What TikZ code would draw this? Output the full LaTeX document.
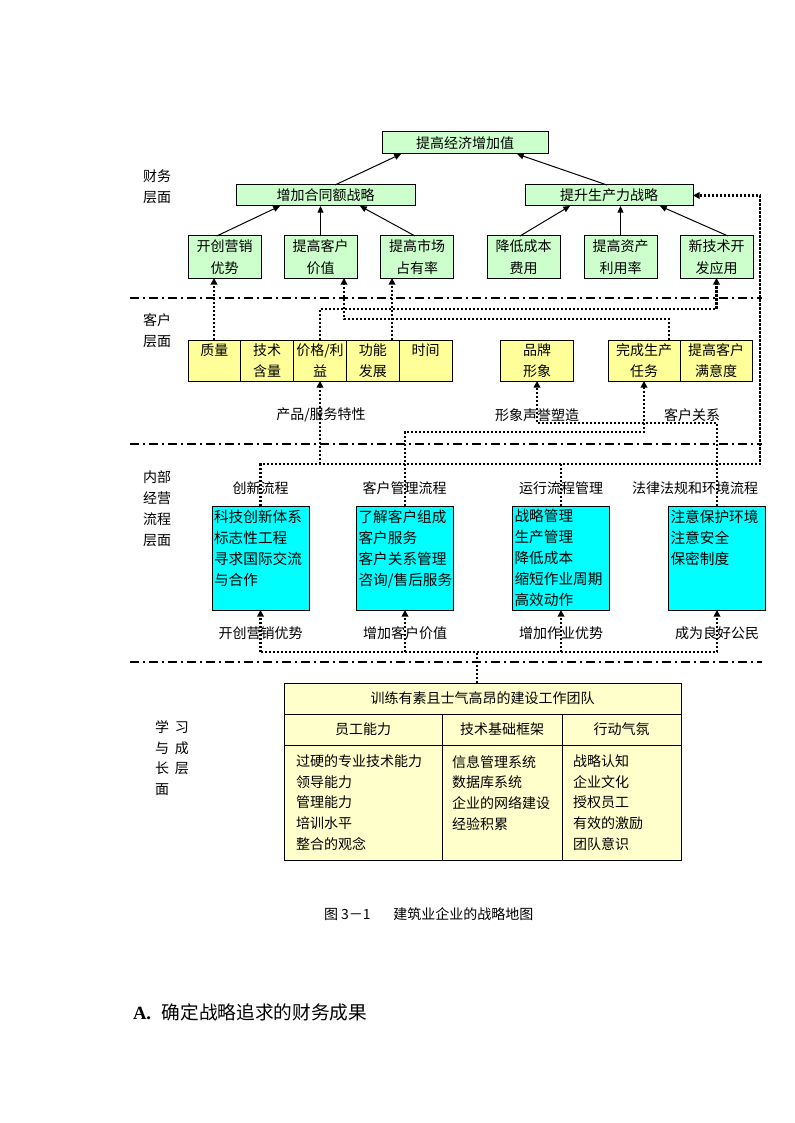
\documentclass[tikz,border=0pt]{standalone}
\usepackage{fontspec}
\setmainfont{Liberation Serif}
\newfontfamily\cjk{Noto Sans CJK SC}
\usetikzlibrary{arrows.meta}
\definecolor{finfill}{HTML}{CCFFCC}
\definecolor{cusfill}{HTML}{FFFF99}
\definecolor{procfill}{HTML}{00FFFF}
\definecolor{learnfill}{HTML}{FFFFCC}
\begin{document}
\begin{tikzpicture}[x=0.75pt,y=-0.75pt,
  every node/.style={inner sep=0pt,outer sep=0pt},
  lab/.style={font=\cjk\fontsize{10.5pt}{15.75pt}\selectfont,align=left},
  boxb/.style={draw=black,line width=0.75pt,align=center},
  finbox/.style={boxb,fill=finfill,font=\cjk\fontsize{10.5pt}{16.5pt}\selectfont},
  finsm/.style={finbox,minimum width=54.75pt,minimum height=31.5pt},
  cusbox/.style={boxb,fill=cusfill,minimum height=30.75pt,font=\cjk\fontsize{10.5pt}{15.75pt}\selectfont},
  procbox/.style={boxb,fill=procfill,align=left,minimum width=72.75pt,minimum height=78pt,text width=69.75pt,inner xsep=1.5pt,font=\cjk\fontsize{11pt}{15.75pt}\selectfont},
  learnbox/.style={boxb,fill=learnfill,font=\cjk\fontsize{10.5pt}{15.5pt}\selectfont},
  sepl/.style={line width=1.5pt,dash pattern=on 6.75pt off 3pt on 1.5pt off 3pt},
  dotl/.style={line width=1.6pt,dash pattern=on 1.6pt off 1.4pt},
  dota/.style={dotl,-{Triangle[length=5pt,width=5pt]}},
  sola/.style={line width=0.75pt,-{Triangle[length=5pt,width=4.5pt]}}
]
\useasboundingbox (0,0) rectangle (794,1123);

% ---------- level labels ----------
\node[lab,anchor=west] (lvf) at (143,186.5) {财务\\层面};
\node[lab,anchor=west] (lvc) at (143,331) {客户\\层面};
\node[lab,anchor=west] (lvi) at (143,508.5) {内部\\经营\\流程\\层面};
\node[lab,anchor=west,font=\cjk\fontsize{10.5pt}{15.5pt}\selectfont] (lvl) at (155,758) {学\hspace{4.5pt}习\\与\hspace{4.5pt}成\\长\hspace{4.5pt}层\\面};

% ---------- separators ----------
\draw[sepl] (130,298) -- (762,298);
\draw[sepl] (130,444) -- (762,444);
\draw[sepl] (130,662) -- (762,662);

% ---------- financial level ----------
\node[finbox,minimum width=124.5pt,minimum height=16.5pt] (top) at (465,143) {提高经济增加值};
\node[finbox,minimum width=134.25pt,minimum height=15.75pt] (g1) at (325.5,195.5) {增加合同额战略};
\node[finbox,minimum width=126pt,minimum height=15.75pt] (g2) at (609,195.5) {提升生产力战略};
\node[finsm] (f1) at (224.5,257) {开创营销\\优势};
\node[finsm] (f2) at (320.5,257) {提高客户\\价值};
\node[finsm] (f3) at (417,257) {提高市场\\占有率};
\node[finsm] (f4) at (523.5,257) {降低成本\\费用};
\node[finsm] (f5) at (620.5,257) {提高资产\\利用率};
\node[finsm] (f6) at (716.5,257) {新技术开\\发应用};

\draw[sola] (216.7,0 |- f1.north) -- (280,0 |- g1.south);
\draw[sola] (f2.north) -- (f2.north |- g1.south);
\draw[sola] (415,0 |- f3.north) -- (360,0 |- g1.south);
\draw[sola] (520,0 |- f4.north) -- (570,0 |- g2.south);
\draw[sola] (f5.north) -- (f5.north |- g2.south);
\draw[sola] (728,0 |- f6.north) -- (660,0 |- g2.south);
\draw[sola] (335,0 |- g1.north) -- (401,0 |- top.south);
\draw[sola] (607,0 |- g2.north) -- (517,0 |- top.south);

% ---------- customer level ----------
\node[cusbox,minimum width=39.6pt] (c1) at (214.4,360.5) {质量\\\mbox{}};
\node[cusbox,minimum width=39.6pt] (c2) at (267.2,360.5) {技术\\含量};
\node[cusbox,minimum width=39.6pt] (c3) at (320,360.5) {价格/利\\益};
\node[cusbox,minimum width=39.6pt] (c4) at (372.8,360.5) {功能\\发展};
\node[cusbox,minimum width=39.6pt] (c5) at (425.6,360.5) {时间\\\mbox{}};
\node[cusbox,minimum width=54.75pt] (br) at (537,360.5) {品牌\\形象};
\node[cusbox,minimum width=54pt] (cm1) at (644,360.5) {完成生产\\任务};
\node[cusbox,minimum width=54pt] (cm2) at (716,360.5) {提高客户\\满意度};

\node[lab] (tc1) at (321,415) {产品/服务特性};
\node[lab] (tc2) at (537,415) {形象声誉塑造};
\node[lab] (tc3) at (692,415) {客户关系};

% customer -> financial
\draw[dota] (214,0 |- c1.north) -- (214,0 |- f1.south);
\draw[dota] (c3.north) -- (c3.north |- 0,309) -- (f6.south |- 0,309) -- (f6.south);
\draw[dota] (392,0 |- c4.north) -- (392,0 |- f3.south);
\draw[dota] (669,0 |- cm1.north) -- (669,319) -- (344,319) -- (344,0 |- f2.south);

% ---------- internal process level ----------
\node[lab] (ti1) at (260.5,488) {创新流程};
\node[lab] (ti2) at (404.5,488) {客户管理流程};
\node[lab] (ti3) at (561,488) {运行流程管理};
\node[lab] (ti4) at (695,488) {法律法规和环境流程};

\node[procbox] (i1) at (260.5,558) {科技创新体系\\标志性工程\\寻求国际交流\\与合作\\\mbox{}};
\node[procbox] (i2) at (405,558) {了解客户组成\\客户服务\\客户关系管理\\咨询/售后服务\\\mbox{}};
\node[procbox] (i3) at (561,558) {战略管理\\生产管理\\降低成本\\缩短作业周期\\高效动作};
\node[procbox] (i4) at (717,558) {注意保护环境\\注意安全\\保密制度\\\mbox{}\\\mbox{}};

\node[lab] (tb1) at (260.5,633) {开创营销优势};
\node[lab] (tb2) at (405,633) {增加客户价值};
\node[lab] (tb3) at (561,633) {增加作业优势};
\node[lab] (tb4) at (717,633) {成为良好公民};

% internal -> customer / financial
\draw[dota] (i1.north) -- (i1.north |- 0,464) -- (760,464) -- (760,0 |- g2.east) -- (g2.east);
\draw[dotl] (i3.north) -- (i3.north |- 0,464);
\draw[dota] (c3.south |- 0,464) -- (c3.south);
\draw[dota] (i2.north) -- (i2.north |- 0,432) -- (cm1.south |- 0,432) -- (cm1.south);
\draw[dota] (i4.north) -- (i4.north |- 0,423) -- (br.south |- 0,423) -- (br.south);

% ---------- learning & growth level ----------
\node[learnbox,minimum width=297.75pt,minimum height=23.25pt] (lt) at (482.5,698.5) {训练有素且士气高昂的建设工作团队};
\node[learnbox,minimum width=118.5pt,minimum height=23.25pt] (lh1) at (363,729.5) {员工能力};
\node[learnbox,minimum width=90pt,minimum height=23.25pt] (lh2) at (502,729.5) {技术基础框架};
\node[learnbox,minimum width=89.25pt,minimum height=23.25pt] (lh3) at (621.5,729.5) {行动气氛};
\node[learnbox,align=left,minimum height=86.25pt,text width=100.5pt,inner xsep=9pt] (lb1) at (363,802.5) {过硬的专业技术能力\\领导能力\\管理能力\\培训水平\\整合的观念};
\node[learnbox,align=left,minimum height=86.25pt,text width=75pt,inner xsep=7.5pt] (lb2) at (502,802.5) {信息管理系统\\数据库系统\\企业的网络建设\\经验积累\\\mbox{}};
\node[learnbox,align=left,minimum height=86.25pt,text width=72.75pt,inner xsep=8.25pt] (lb3) at (621.5,802.5) {战略认知\\企业文化\\授权员工\\有效的激励\\团队意识};

% learning -> internal
\draw[dotl] (477,0 |- lt.north) -- (477,652);
\draw[dotl] (i1.south |- 0,652) -- (i4.south |- 0,652);
\draw[dota] (i1.south |- 0,652) -- (i1.south);
\draw[dota] (i2.south |- 0,652) -- (i2.south);
\draw[dota] (i3.south |- 0,652) -- (i3.south);
\draw[dota] (i4.south |- 0,652) -- (i4.south);

% ---------- caption and text ----------
\node[anchor=west,font=\cjk\fontsize{10.5pt}{12pt}\selectfont] (cap) at (324,914) {图 3－1\hspace{17pt}建筑业企业的战略地图};
\node[anchor=west,font=\fontsize{14pt}{16pt}\selectfont] (secA) at (133,1012) {\textbf{A.}\hspace{8pt}{\cjk 确定战略追求的财务成果}};
\end{tikzpicture}
\end{document}
